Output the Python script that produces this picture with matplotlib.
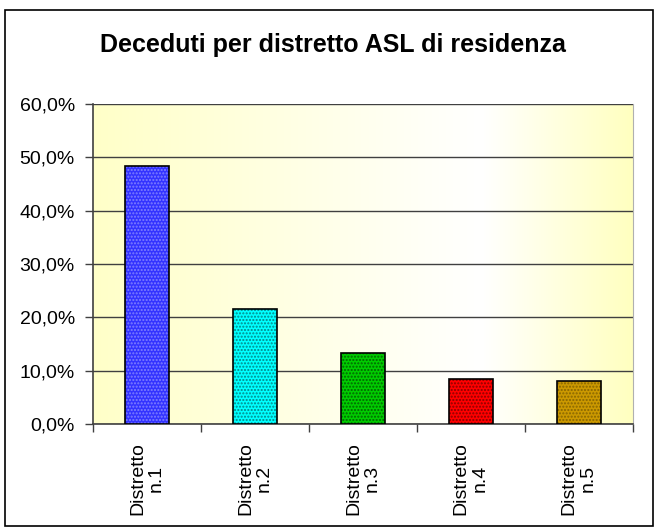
import numpy as np
import matplotlib
matplotlib.use("Agg")
import matplotlib.pyplot as plt
from matplotlib.colors import LinearSegmentedColormap
from matplotlib.ticker import FuncFormatter, FixedLocator
from matplotlib.patches import Rectangle

plt.rcParams['font.family'] = ['Liberation Sans', 'DejaVu Sans']
plt.rcParams['hatch.linewidth'] = 1.0

# Dati
categorie = ["Distretto\nn.1", "Distretto\nn.2", "Distretto\nn.3", "Distretto\nn.4", "Distretto\nn.5"]
percentuali = [48.3, 21.6, 13.4, 8.4, 8.1]
colori = ["#3333FF", "#00FFFF", "#00CC00", "#FF0000", "#CC9900"]
colori_punti = ["#8080FF", "#008888", "#006600", "#880000", "#886600"]

fig = plt.figure(figsize=(6.55, 5.28), dpi=100)
ax = fig.add_axes([0.142, 0.197, 0.824, 0.606])

# bordo esterno della figura
fig.patches.append(Rectangle((5 / 655, 2 / 528), 648 / 655, 516 / 528, transform=fig.transFigure,
                             fill=False, edgecolor='black', linewidth=1.2))

# sfondo sfumato giallo -> bianco -> giallo
cmap = LinearSegmentedColormap.from_list(
    "sfondo", [(0.0, "#FFFFC8"), (0.72, "#FFFFFF"), (1.0, "#FFFFC0")])
grad = np.linspace(0, 1, 256).reshape(1, -1)
ax.imshow(grad, cmap=cmap, aspect='auto', extent=[-0.5, 4.5, 0, 60], zorder=0)

x = np.arange(len(categorie))
ax.bar(x, percentuali, width=0.41, color=colori, edgecolor=colori_punti,
       hatch='.....', linewidth=0, zorder=3)
ax.bar(x, percentuali, width=0.41, fill=False, edgecolor='black', linewidth=1.2, zorder=4)

ax.set_xlim(-0.5, 4.5)
ax.set_ylim(0, 60)
ax.set_yticks(np.arange(0, 61, 10))
ax.yaxis.set_major_formatter(FuncFormatter(lambda v, p: f"{v:.1f}%".replace('.', ',')))
ax.grid(axis='y', color='#404040', linewidth=1.0, zorder=1)
ax.set_axisbelow(True)

ax.xaxis.set_major_locator(FixedLocator(np.arange(-0.5, 5, 1)))
ax.xaxis.set_minor_locator(FixedLocator(x))
ax.set_xticklabels([])
ax.set_xticklabels(categorie, minor=True, rotation=90, fontsize=14, ha='center', va='top',
                   linespacing=1.15)
ax.tick_params(axis='x', which='minor', length=0, pad=13)
ax.tick_params(axis='x', which='major', length=6, width=1, color='#404040', direction='out')
ax.tick_params(axis='y', length=6, width=1, color='#404040', labelsize=14, pad=7)

for s in ['left', 'bottom']:
    ax.spines[s].set_color('#404040')
    ax.spines[s].set_linewidth(1.2)
ax.spines['top'].set_visible(False)
ax.spines['right'].set_color('#B0B0B0')

fig.text(333 / 655, 1 - 52 / 528, "Deceduti per distretto ASL di residenza", ha='center',
         va='baseline', fontsize=18, fontweight='bold')

fig.savefig("out.png", dpi=100)
